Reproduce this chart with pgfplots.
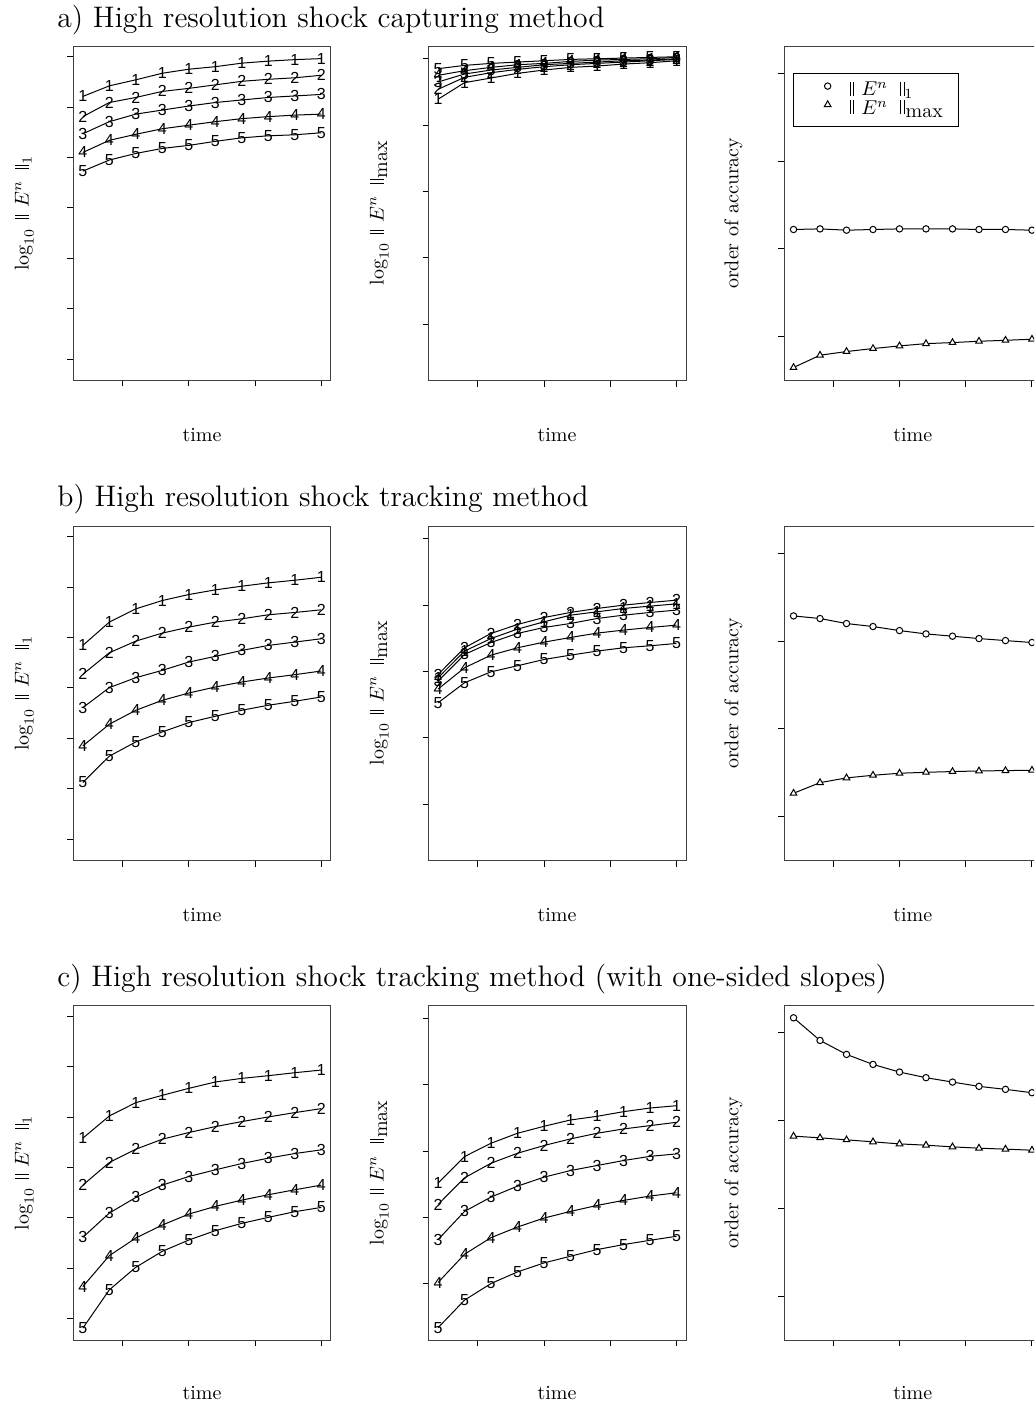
\documentclass[border=0pt]{standalone}
\usepackage{fontspec}
\newfontfamily\digitfont{Liberation Sans}
\usepackage{pgfplots}
\usepackage{pgfplotstable}
\pgfplotsset{compat=1.18}
\usetikzlibrary{plotmarks}

% panel a1
\pgfplotstableread{
t   s1   s2   s3   s4   s5
0.2 5.21 4.81 4.47 4.10 3.73
0.4 5.42 5.09 4.71 4.34 3.95
0.6 5.54 5.19 4.86 4.46 4.08
0.8 5.67 5.31 4.94 4.57 4.18
1.0 5.75 5.37 5.02 4.64 4.24
1.2 5.80 5.44 5.09 4.71 4.32
1.4 5.87 5.51 5.14 4.77 4.39
1.6 5.91 5.55 5.19 4.81 4.43
1.8 5.94 5.58 5.22 4.84 4.45
2.0 5.96 5.63 5.25 4.86 4.49
}\tabAa
% panel a2
\pgfplotstableread{
t   s1   s2   s3   s4   s5
0.2 3.39 3.54 3.65 3.75 3.85
0.4 3.64 3.72 3.77 3.82 3.90
0.6 3.71 3.79 3.83 3.87 3.93
0.8 3.78 3.84 3.87 3.91 3.95
1.0 3.83 3.88 3.91 3.93 3.97
1.2 3.87 3.91 3.93 3.96 3.99
1.4 3.89 3.93 3.95 3.98 4.00
1.6 3.92 3.95 3.97 3.99 4.01
1.8 3.94 3.97 3.98 4.00 4.02
2.0 3.97 3.99 4.00 4.02 4.03
}\tabAb
% panel a3
\pgfplotstableread{
t   l1    lmax
0.2 1.220 -0.352
0.4 1.227 -0.212
0.6 1.212 -0.170
0.8 1.220 -0.136
1.0 1.227 -0.106
1.2 1.227 -0.080
1.4 1.227 -0.068
1.6 1.220 -0.053
1.8 1.220 -0.042
2.0 1.212 -0.030
}\tabAc
% panel b1
\pgfplotstableread{
t   s1    s2    s3    s4    s5
0.2 3.843 3.270 2.610 1.852 1.127
0.4 4.305 3.698 3.006 2.281 1.648
0.6 4.568 3.929 3.204 2.558 1.931
0.8 4.733 4.087 3.349 2.755 2.129
1.0 4.852 4.206 3.514 2.900 2.314
1.2 4.944 4.305 3.626 3.019 2.439
1.4 5.017 4.371 3.744 3.118 2.558
1.6 5.083 4.450 3.843 3.197 2.657
1.8 5.135 4.496 3.909 3.263 2.736
2.0 5.194 4.549 3.975 3.336 2.821
}\tabBa
% panel b2
\pgfplotstableread{
t   s1    s2    s3    s4    s5
0.2 1.906 1.956 1.856 1.736 1.530
0.4 2.308 2.358 2.257 2.057 1.831
0.6 2.498 2.574 2.438 2.247 1.996
0.8 2.639 2.709 2.574 2.358 2.087
1.0 2.749 2.814 2.664 2.443 2.182
1.2 2.849 2.890 2.724 2.513 2.247
1.4 2.900 2.950 2.799 2.579 2.308
1.6 2.950 3.000 2.849 2.624 2.358
1.8 2.985 3.040 2.890 2.664 2.388
2.0 3.020 3.075 2.925 2.699 2.423
}\tabBb
% panel b3
\pgfplotstableread{
t   l1    lmax
0.2 2.286 0.266
0.4 2.256 0.387
0.6 2.199 0.441
0.8 2.165 0.471
1.0 2.119 0.494
1.2 2.081 0.505
1.4 2.055 0.513
1.6 2.028 0.520
1.8 2.005 0.524
2.0 1.983 0.528
}\tabBc
% panel c1
\pgfplotstableread{
t   s1    s2    s3    s4    s5
0.2 3.580 2.650 1.615 0.639 -0.185
0.4 4.021 3.098 2.096 1.252 0.574
0.6 4.285 3.362 2.406 1.602 1.022
0.8 4.430 3.560 2.650 1.859 1.338
1.0 4.568 3.692 2.821 2.076 1.562
1.2 4.694 3.810 2.953 2.228 1.747
1.4 4.766 3.909 3.078 2.353 1.892
1.6 4.819 4.001 3.184 2.459 2.011
1.8 4.878 4.087 3.276 2.558 2.123
2.0 4.931 4.166 3.349 2.650 2.208
}\tabCa
% panel c2
\pgfplotstableread{
t   s1    s2    s3    s4    s5
0.2 1.517 1.196 0.666 0.020 -0.661
0.4 1.917 1.597 1.091 0.446 -0.245
0.6 2.118 1.817 1.307 0.696 0.005
0.8 2.268 1.967 1.472 0.856 0.180
1.0 2.373 2.083 1.607 0.991 0.315
1.2 2.468 2.183 1.707 1.091 0.416
1.4 2.523 2.268 1.782 1.181 0.516
1.6 2.593 2.333 1.857 1.257 0.591
1.8 2.648 2.383 1.920 1.322 0.656
2.0 2.683 2.433 1.957 1.372 0.716
}\tabCb
% panel c3
\pgfplotstableread{
t   l1    lmax
0.2 3.170 1.822
0.4 2.912 1.803
0.6 2.753 1.780
0.8 2.639 1.757
1.0 2.552 1.734
1.2 2.488 1.719
1.4 2.438 1.700
1.6 2.389 1.685
1.8 2.355 1.674
2.0 2.317 1.662
}\tabCc

\pgfplotsset{
  panel/.style={
    scale only axis, width=128.75pt, height=167.25pt,
    anchor=north west,
    xmin=0.128, xmax=2.072, xtick={0.5,1,1.5,2},
    xticklabels={}, yticklabels={},
    tick pos=left, tick align=outside, major tick length=3pt,
    axis line style={line width=0.5pt, black!75},
    every tick/.style={black, line width=0.5pt},
    every axis plot/.append style={black, line width=0.5pt},
  },
  colL/.style={panel, ymin=-0.42, ymax=6.21, ytick={0,...,6}},
  colM/.style={panel, ymin=-0.846, ymax=4.192, ytick={0,...,4}},
  colR/.style={panel, ymin=-0.50, ymax=3.31, ytick={0,...,3}},
  dig/.style={mark=text, text mark={#1}, text mark as node=true,
    text mark style={font=\digitfont\fontsize{8}{8}\selectfont, inner sep=0pt}},
  circ/.style={mark=*, mark size=1.6pt, mark options={fill=white, line width=0.5pt}},
  tri/.style={mark=triangle*, mark size=1.9pt, mark options={fill=white, line width=0.5pt}},
}

\newcommand{\bars}{\rule{0.45pt}{7pt}\kern1.3pt\rule{0.45pt}{7pt}}
\newcommand{\normE}{\bars\kern3.5pt$E^{n}$\kern6pt\bars}
\newcommand{\ylabL}{$\log_{10}$\kern4.5pt\normE${}_1$}
\newcommand{\ylabM}{$\log_{10}$\kern4.5pt\normE\kern0.6pt\raisebox{-1.7pt}{max}}

\begin{document}
\begin{tikzpicture}
\path[use as bounding box] (0,0) rectangle (517pt,-704pt);
\clip (0,0) rectangle (517pt,-704pt);

% titles
\node[anchor=base west, inner sep=0pt, font=\fontsize{14.85}{17}\selectfont] at (28.5pt,-13.5pt) {a) High resolution shock capturing method};
\node[anchor=base west, inner sep=0pt, font=\fontsize{14.85}{17}\selectfont] at (28.5pt,-253.25pt) {b) High resolution shock tracking method};
\node[anchor=base west, inner sep=0pt, font=\fontsize{14.85}{17}\selectfont] at (28.5pt,-493pt) {c) High resolution shock tracking method (with one-sided slopes)};

% ---------- row a ----------
\begin{axis}[colL, at={(36.65pt,-23pt)}]
\addplot[dig=1] table[x=t,y=s1]{\tabAa};
\addplot[dig=2] table[x=t,y=s2]{\tabAa};
\addplot[dig=3] table[x=t,y=s3]{\tabAa};
\addplot[dig=4] table[x=t,y=s4]{\tabAa};
\addplot[dig=5] table[x=t,y=s5]{\tabAa};
\end{axis}
\begin{axis}[colM, at={(214.25pt,-23pt)}]
\addplot[dig=1] table[x=t,y=s1]{\tabAb};
\addplot[dig=2] table[x=t,y=s2]{\tabAb};
\addplot[dig=3] table[x=t,y=s3]{\tabAb};
\addplot[dig=4] table[x=t,y=s4]{\tabAb};
\addplot[dig=5] table[x=t,y=s5]{\tabAb};
\end{axis}
\begin{axis}[colR, at={(392pt,-23pt)},
  legend style={at={(0.034,0.918)}, anchor=north west, draw=black, line width=0.5pt,
    font=\fontsize{10}{10}\selectfont, row sep=0pt, column sep=0pt,
    inner xsep=4pt, inner ysep=4pt,
    nodes={inner sep=0pt, text height=7pt, text depth=2.2pt},
    cells={anchor=west}}]
\addplot[circ, forget plot] table[x=t,y=l1]{\tabAc};
\addplot[tri, forget plot] table[x=t,y=lmax]{\tabAc};
\addlegendimage{legend image code/.code={\path[draw=none] (0pt,0pt) -- (24.3pt,0pt);
    \draw[line width=0.5pt] (13.2pt,2.5pt) circle (1.6pt);}}
\addlegendentry{\normE${}_1$\rule{2pt}{0pt}}
\addlegendimage{legend image code/.code={\path[draw=none] (0pt,0pt) -- (24.3pt,0pt);
    \draw[line width=0.5pt] (13.2pt,4.4pt) -- (14.85pt,1.55pt) -- (11.55pt,1.55pt) -- cycle;}}
\addlegendentry{\normE\kern0.6pt\raisebox{-1.7pt}{max}\rule{4pt}{0pt}}
\end{axis}

% ---------- row b ----------
\begin{axis}[colL, at={(36.65pt,-263pt)}]
\addplot[dig=1] table[x=t,y=s1]{\tabBa};
\addplot[dig=2] table[x=t,y=s2]{\tabBa};
\addplot[dig=3] table[x=t,y=s3]{\tabBa};
\addplot[dig=4] table[x=t,y=s4]{\tabBa};
\addplot[dig=5] table[x=t,y=s5]{\tabBa};
\end{axis}
\begin{axis}[colM, at={(214.25pt,-263pt)}]
\addplot[dig=1] table[x=t,y=s1]{\tabBb};
\addplot[dig=2] table[x=t,y=s2]{\tabBb};
\addplot[dig=3] table[x=t,y=s3]{\tabBb};
\addplot[dig=4] table[x=t,y=s4]{\tabBb};
\addplot[dig=5] table[x=t,y=s5]{\tabBb};
\end{axis}
\begin{axis}[colR, at={(392pt,-263pt)}]
\addplot[circ] table[x=t,y=l1]{\tabBc};
\addplot[tri] table[x=t,y=lmax]{\tabBc};
\end{axis}

% ---------- row c ----------
\begin{axis}[colL, at={(36.65pt,-502.75pt)}]
\addplot[dig=1] table[x=t,y=s1]{\tabCa};
\addplot[dig=2] table[x=t,y=s2]{\tabCa};
\addplot[dig=3] table[x=t,y=s3]{\tabCa};
\addplot[dig=4] table[x=t,y=s4]{\tabCa};
\addplot[dig=5] table[x=t,y=s5]{\tabCa};
\end{axis}
\begin{axis}[colM, at={(214.25pt,-502.75pt)}]
\addplot[dig=1] table[x=t,y=s1]{\tabCb};
\addplot[dig=2] table[x=t,y=s2]{\tabCb};
\addplot[dig=3] table[x=t,y=s3]{\tabCb};
\addplot[dig=4] table[x=t,y=s4]{\tabCb};
\addplot[dig=5] table[x=t,y=s5]{\tabCb};
\end{axis}
\begin{axis}[colR, at={(392pt,-502.75pt)}]
\addplot[circ] table[x=t,y=l1]{\tabCc};
\addplot[tri] table[x=t,y=lmax]{\tabCc};
\end{axis}

% axis labels
\foreach \yb/\yc in {-220.75/-106.6, -460.5/-346.6, -699.8/-586.4} {
  \node[anchor=base, inner sep=0pt] at (101pt,\yb pt) {time};
  \node[anchor=base, inner sep=0pt] at (278.5pt,\yb pt) {time};
  \node[anchor=base, inner sep=0pt] at (456.4pt,\yb pt) {time};
  \node[anchor=base, rotate=90, inner sep=0pt] at (14.3pt,\yc pt) {\ylabL};
  \node[anchor=base, rotate=90, inner sep=0pt] at (191.8pt,\yc pt) {\ylabM};
  \node[anchor=base, rotate=90, inner sep=0pt] at (369.2pt,\yc pt) {order of accuracy};
}
\end{tikzpicture}
\end{document}
